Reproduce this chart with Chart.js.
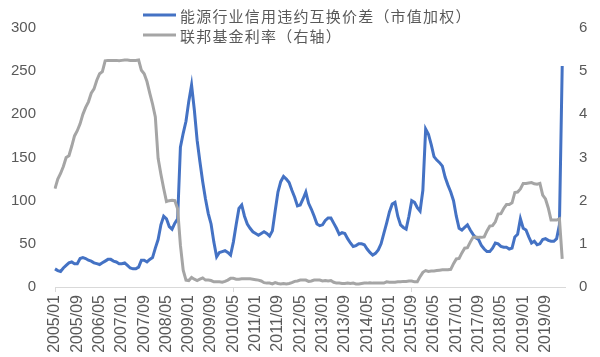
<!DOCTYPE html>
<html>
<head>
<meta charset="utf-8">
<script src="https://cdn.jsdelivr.net/npm/chart.js@4"></script>
<style>
  html, body { margin: 0; padding: 0; background: #ffffff; }
  #c { display: block; }
</style>
</head>
<body>
<canvas id="c" width="600" height="357"></canvas>
<script>
// ---- Data ----
const startYear = 2005;
const monthCount = 184; // 2005/01 .. 2020/04
const months = [];
for (let i = 0; i < monthCount; i++) {
  const y = startYear + Math.floor(i / 12);
  const m = (i % 12) + 1;
  months.push(y + '/' + (m < 10 ? '0' + m : m));
}

const tickLabels = ['2005/01','2005/09','2006/05','2007/01','2007/09','2008/05','2009/01','2009/09',
  '2010/05','2011/01','2011/09','2012/05','2013/01','2013/09','2014/05','2015/01','2015/09',
  '2016/05','2017/01','2017/09','2018/05','2019/01','2019/09'];

const seriesNames = ['能源行业信用违约互换价差（市值加权）', '联邦基金利率（右轴）'];

// Energy sector CDS spread (market-value weighted), left axis
const cdsSpread = [
  21, 19, 18, 22, 25, 28, 29, 27, 27, 33, 34, 33,          // 2005
  31, 30, 28, 27, 26, 28, 30, 32, 32, 30, 29, 27,          // 2006
  27, 28, 25, 22, 21, 21, 23, 31, 31, 29, 32, 34,          // 2007
  45, 55, 72, 82, 79, 70, 67, 74, 79, 162, 178, 192,       // 2008
  215, 234, 205, 170, 145, 122, 102, 85, 73, 52, 35, 40,   // 2009
  41, 42, 40, 37, 52, 72, 91, 95, 82, 73, 68, 64,          // 2010
  62, 60, 62, 64, 62, 59, 65, 88, 110, 122, 128, 125,      // 2011
  121, 112, 104, 94, 95, 102, 110, 97, 90, 82, 73, 71,     // 2012
  72, 77, 80, 80, 74, 68, 61, 63, 62, 56, 51, 47,          // 2013
  48, 50, 50, 49, 44, 40, 37, 39, 43, 50, 62, 74,          // 2014
  87, 96, 98, 82, 72, 69, 67, 82, 100, 98, 92, 88,         // 2015
  112, 183, 177, 165, 151, 147, 144, 140, 127, 118, 110, 100, // 2016
  82, 68, 66, 69, 72, 66, 61, 57, 55, 48, 44, 41,          // 2017
  41, 45, 51, 50, 47, 46, 46, 44, 45, 58, 61, 79,          // 2018
  68, 66, 58, 51, 53, 49, 50, 55, 56, 54, 53, 53,          // 2019
  56, 72, 256, null                                         // 2020
];

// Federal funds rate (%), right axis
const fedFunds = [
  2.28, 2.50, 2.63, 2.79, 3.00, 3.04, 3.26, 3.50, 3.62, 3.78, 4.00, 4.16,
  4.29, 4.49, 4.59, 4.79, 4.94, 4.99, 5.24, 5.25, 5.25, 5.25, 5.25, 5.24,
  5.25, 5.26, 5.26, 5.25, 5.25, 5.25, 5.26, 5.02, 4.94, 4.76, 4.49, 4.24,
  3.94, 2.98, 2.61, 2.28, 1.98, 2.00, 2.01, 2.00, 1.81, 0.97, 0.39, 0.16,
  0.15, 0.22, 0.18, 0.15, 0.18, 0.21, 0.16, 0.16, 0.15, 0.12, 0.12, 0.12,
  0.11, 0.13, 0.16, 0.20, 0.20, 0.18, 0.18, 0.19, 0.19, 0.19, 0.19, 0.18,
  0.17, 0.16, 0.14, 0.10, 0.09, 0.09, 0.07, 0.10, 0.08, 0.07, 0.08, 0.07,
  0.08, 0.10, 0.13, 0.14, 0.16, 0.16, 0.16, 0.13, 0.14, 0.16, 0.16, 0.16,
  0.14, 0.15, 0.14, 0.15, 0.11, 0.09, 0.09, 0.08, 0.08, 0.09, 0.08, 0.09,
  0.07, 0.07, 0.08, 0.09, 0.09, 0.10, 0.09, 0.09, 0.09, 0.09, 0.09, 0.12,
  0.11, 0.11, 0.11, 0.12, 0.12, 0.13, 0.13, 0.14, 0.14, 0.12, 0.12, 0.24,
  0.34, 0.38, 0.36, 0.37, 0.37, 0.38, 0.39, 0.40, 0.40, 0.40, 0.41, 0.54,
  0.65, 0.66, 0.79, 0.90, 0.91, 1.04, 1.15, 1.16, 1.15, 1.15, 1.16, 1.30,
  1.41, 1.42, 1.51, 1.69, 1.70, 1.82, 1.91, 1.91, 1.95, 2.19, 2.20, 2.27,
  2.40, 2.40, 2.41, 2.42, 2.39, 2.38, 2.40, 2.13, 2.04, 1.83, 1.55, 1.55,
  1.55, 1.58, 0.65, null
];

const leftTicks = { min: 0, max: 300, step: 50 };
const rightTicks = { min: 0, max: 6, step: 1 };

// ---- Chart ----
const textColor = '#595959';
const axisColor = '#D9D9D9';
const yTickFont = { family: '"Liberation Sans", Arial, sans-serif', size: 15 };
const xTickFont = { family: '"Liberation Sans", Arial, sans-serif', size: 16 };

const legendPlugin = {
  id: 'customLegend',
  afterDraw(chart) {
    const ctx = chart.ctx;
    const rowsY = [15, 35];
    ctx.save();
    chart.data.datasets.forEach((ds, i) => {
      const y = rowsY[i];
      ctx.strokeStyle = ds.borderColor;
      ctx.lineWidth = 3;
      ctx.beginPath();
      ctx.moveTo(143, y);
      ctx.lineTo(176, y);
      ctx.stroke();
      ctx.fillStyle = textColor;
      ctx.font = '15px "Noto Sans CJK SC", sans-serif';
      if ('letterSpacing' in ctx) ctx.letterSpacing = '1.2px';
      ctx.textBaseline = 'middle';
      ctx.textAlign = 'left';
      ctx.fillText(ds.label, 180, y + 1);
    });
    ctx.restore();
  }
};

new Chart(document.getElementById('c'), {
  type: 'line',
  data: {
    labels: months,
    datasets: [
      {
        label: seriesNames[0],
        data: cdsSpread,
        borderColor: '#4472C4',
        backgroundColor: '#4472C4',
        borderWidth: 3,
        pointRadius: 0,
        tension: 0,
        yAxisID: 'y',
        order: 1
      },
      {
        label: seriesNames[1],
        data: fedFunds,
        borderColor: '#A5A5A5',
        backgroundColor: '#A5A5A5',
        borderWidth: 3,
        pointRadius: 0,
        tension: 0,
        yAxisID: 'y1',
        order: 0
      }
    ]
  },
  options: {
    responsive: false,
    devicePixelRatio: 1,
    animation: false,
    layout: { padding: { top: 13, left: 0, right: 0, bottom: 0 } },
    plugins: {
      legend: { display: false },
      tooltip: { enabled: false }
    },
    scales: {
      x: {
        type: 'category',
        offset: false,
        grid: {
          display: true,
          drawOnChartArea: false,
          drawTicks: true,
          tickLength: 5,
          color: (c) => (c.index !== undefined && tickLabels.includes(months[c.index])) ? axisColor : 'rgba(0,0,0,0)'
        },
        border: { display: true, color: axisColor, width: 1 },
        ticks: {
          autoSkip: false,
          minRotation: 90,
          maxRotation: 90,
          padding: 3,
          color: textColor,
          font: xTickFont,
          callback: (v, i) => tickLabels.includes(months[i]) ? months[i] : null
        },
        afterFit: (s) => { s.height = 70; }
      },
      y: {
        position: 'left',
        min: leftTicks.min,
        max: leftTicks.max,
        grid: { display: false, drawTicks: false },
        border: { display: false },
        ticks: { stepSize: leftTicks.step, padding: 19, color: textColor, font: yTickFont },
        afterFit: (s) => { s.width = 55; }
      },
      y1: {
        position: 'right',
        min: rightTicks.min,
        max: rightTicks.max,
        grid: { display: false, drawTicks: false },
        border: { display: false },
        ticks: { stepSize: rightTicks.step, padding: 14, color: textColor, font: yTickFont },
        afterFit: (s) => { s.width = 35; }
      }
    }
  },
  plugins: [legendPlugin]
});
</script>
</body>
</html>
